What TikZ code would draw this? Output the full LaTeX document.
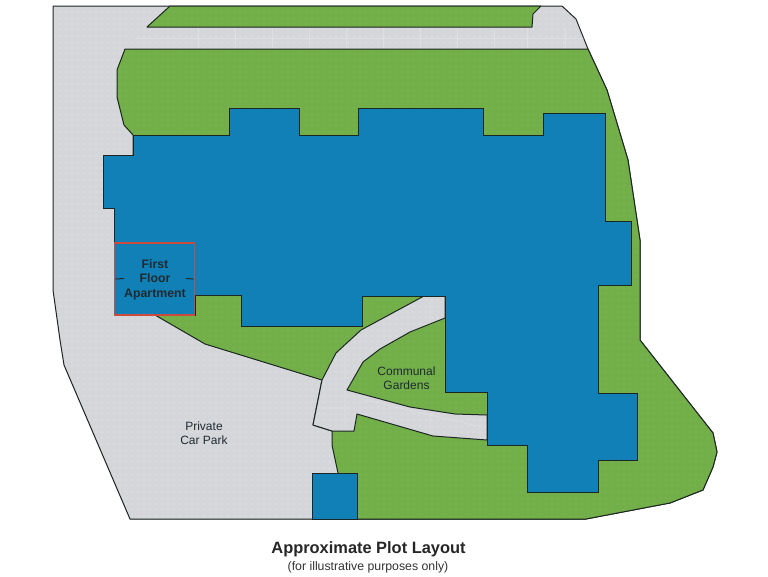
\documentclass[tikz,border=0pt]{standalone}
\usepackage{fontspec}
\usetikzlibrary{patterns.meta}
\setmainfont{Liberation Sans}
\definecolor{paving}{HTML}{D5D6DA}
\definecolor{pavingdot}{HTML}{DCDDE0}
\definecolor{lawn}{HTML}{72AF48}
\definecolor{lawndot}{HTML}{79B451}
\definecolor{block}{HTML}{1180B6}
\definecolor{edge}{HTML}{1C2622}
\definecolor{baseedge}{HTML}{5A605C}
\definecolor{redline}{HTML}{CC4B3E}
\definecolor{labeltext}{HTML}{1F2A30}
\tikzset{
  pave/.style={preaction={fill=paving},pattern={Dots[distance=6pt,radius=1.1pt]},pattern color=pavingdot,draw=edge,line width=1pt,line join=round},
  grassy/.style={preaction={fill=lawn},pattern={Dots[distance=6pt,radius=1.1pt]},pattern color=lawndot,draw=edge,line width=1pt,line join=round},
  bldg/.style={fill=block,draw=edge,line width=1pt,line join=miter},
  lbl/.style={font=\fontsize{12}{14}\selectfont,align=center,text=labeltext,inner sep=0pt},
  lblb/.style={font=\bfseries\fontsize{12.3}{14.5}\selectfont,align=center,text=labeltext,inner sep=0pt},
  tick/.style={draw=labeltext,line width=1pt},
  joint/.style={draw=white,opacity=0.22,line width=0.6pt}
}
\begin{document}
\begin{tikzpicture}[x=1pt,y=-1pt]
\useasboundingbox (0,0) rectangle (768,576);
\fill[white] (0,0) rectangle (768,576);
% site
\draw[pave] (53,6) -- (562,6) -- (576,19) -- (588,49) -- (607,90) -- (628,160) -- (640,240) -- (640,340) -- (713,433) -- (717,452) -- (713,467) -- (703,490) -- (670,503) -- (586,519) -- (130,519) -- (64,365) -- (60,340) -- (53,290) -- cycle;
\draw[baseedge,line width=1pt] (130,519) -- (586,519);
% top lawn
\draw[grassy] (170,6) -- (541,6) -- (533,14) -- (532,27) -- (147,27) -- cycle;
% joints in the top road
\draw[joint] (135,38) -- (584,38);
\foreach \jx in {198,235,272,309,346,383,420,457,494,527,565} \draw[joint] (\jx,28) -- (\jx,48);
% main lawn
\draw[grassy] (125,49) -- (588,49) -- (607,90) -- (628,160) -- (640,240) -- (640,340) -- (713,433) -- (717,452) -- (713,467) -- (703,490) -- (670,503) -- (586,519) -- (338,519) -- (338,473) -- (332,445) -- (332,431) -- (313,425) -- (322,380) -- (205,344) -- (155,315) -- (133,260) -- (133,135) -- (124,125) -- (117,97) -- (117,70) -- cycle;
% paths
\draw[pave] (322,380) -- (336,353) -- (361,330) -- (424,296) -- (445,296) -- (445,318) -- (410,332) -- (380,349) -- (363,362) -- (347,390) -- (410,407) -- (455,414) -- (487,415) -- (487,440) -- (433,436) -- (357,414) -- (354,431) -- (332,431) -- (313,425) -- cycle;
\draw[joint] (345,345) -- (345,428) (322,408) -- (352,408) (430,300) -- (430,325) (365,400) -- (486,428) (430,413) -- (430,435);
% building
\draw[bldg] (133,135) -- (229,135) -- (229,108) -- (299,108) -- (299,135) -- (358,135) -- (358,108) -- (483,108) -- (483,135) -- (543,135) -- (543,113) -- (605,113) -- (605,221) -- (631,221) -- (631,285) -- (598,285) -- (598,393) -- (637,393) -- (637,460) -- (598,460) -- (598,492) -- (527,492) -- (527,445) -- (487,445) -- (487,392) -- (445,392) -- (445,296) -- (362,296) -- (362,326) -- (241,326) -- (241,295) -- (195,295) -- (195,315) -- (114,315) -- (114,208) -- (103,208) -- (103,155) -- (133,155) -- cycle;
\draw[bldg] (312,473) rectangle (357,519);
% highlighted apartment
\node[draw=redline,line width=1.6pt,fill=block,minimum width=80pt,minimum height=72pt,inner sep=0pt] (apt) at (154.5,279) {};
\node[lblb] (aptlabel) at (155,279.5) {First\\Floor\\Apartment};
\coordinate (t1) at (124,278.5);
\coordinate (t2) at (186,278.5);
\draw[tick] (apt.west) ++(2,0) -- (t1);
\draw[tick] (apt.east) ++(-2,0) -- (t2);
% labels
\node[lbl] (gardens) at (406.5,378.5) {Communal\\Gardens};
\node[lbl] (carpark) at (204,433.5) {Private\\Car Park};
\node[font=\bfseries\fontsize{16.4}{19}\selectfont,text=black!85,inner sep=0pt] (title) at (368.5,549.5) {Approximate Plot Layout};
\node[font=\fontsize{12.3}{14}\selectfont,text=black!80,inner sep=0pt] (sub) at (368,567) {(for illustrative purposes only)};
\end{tikzpicture}
\end{document}
